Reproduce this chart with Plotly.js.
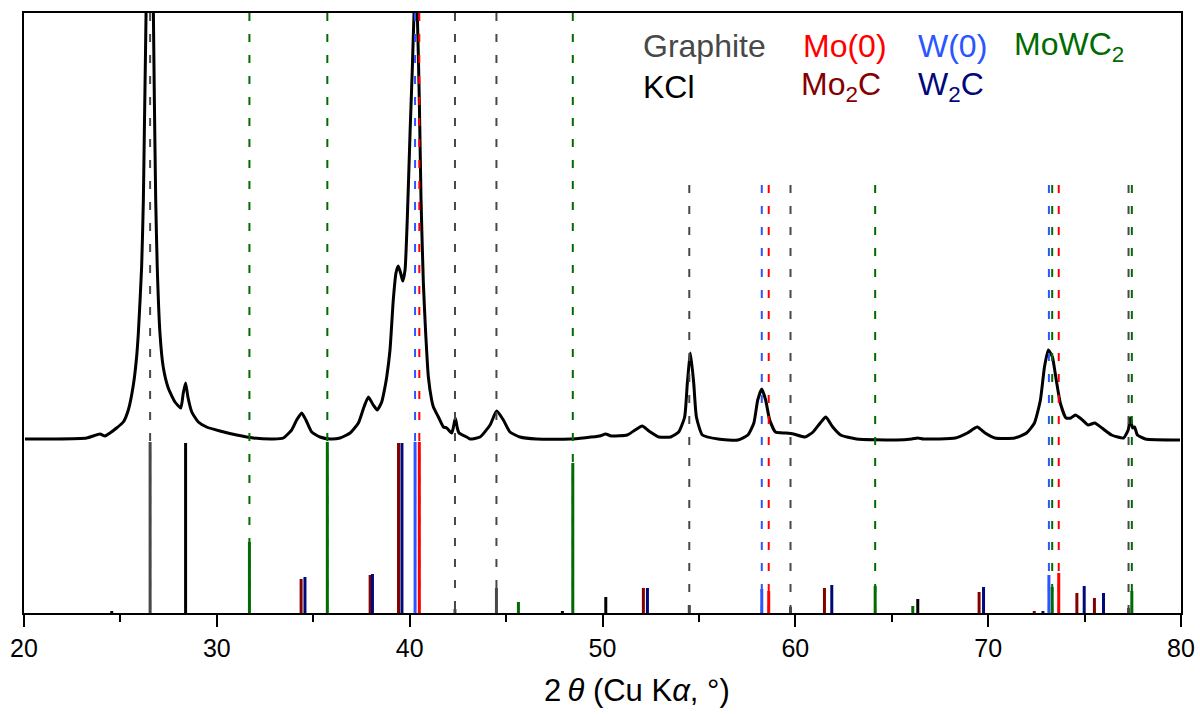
<!DOCTYPE html>
<html>
<head>
<meta charset="utf-8">
<script src="https://cdn.plot.ly/plotly-3.0.1.min.js"></script>
<style>html,body{margin:0;padding:0;background:#fff;}#chart{width:1200px;height:715px;}</style>
</head>
<body>
<div id="chart"></div>
<script>
// Measured XRD pattern (2θ in degrees, intensity in arbitrary units)
const twoTheta = [20.05,21.5,23.25,23.94,24.2,24.46,24.8,25.15,25.41,25.67,25.84,25.93,26.10,26.19,26.24,26.29,26.33,26.45,26.6,26.71,26.76,26.83,26.91,27.05,27.22,27.48,27.83,28.13,28.26,28.38,28.50,28.70,29.04,29.47,30.16,31.03,31.89,32.93,33.45,33.88,34.14,34.40,34.62,34.92,35.35,35.87,36.39,36.91,37.34,37.63,37.86,38.11,38.32,38.55,38.72,38.81,38.98,39.15,39.29,39.41,39.53,39.64,39.76,39.88,40.02,40.14,40.22,40.27,40.34,40.40,40.50,40.59,40.71,40.83,40.97,41.14,41.23,41.49,41.75,41.92,42.18,42.27,42.37,42.47,42.56,42.96,43.13,43.65,44.17,44.51,44.86,45.2,45.72,46.59,48.32,49.85,50.16,50.46,51.28,51.69,52.06,52.41,52.93,53.54,53.95,54.26,54.40,54.56,54.73,54.87,55.18,56.0,57.02,57.54,57.85,58.05,58.26,58.46,58.67,58.97,59.49,59.9,60.51,60.92,61.29,61.58,61.94,62.35,63.17,65.22,66.04,66.35,66.66,68.30,68.92,69.43,69.84,70.35,71.38,71.99,72.40,72.71,72.92,73.12,73.33,73.53,73.74,74.04,74.29,74.52,74.83,75.18,75.53,75.9,76.40,77.02,77.26,77.37,77.49,77.59,77.74,78.15,79.95];
const intensity = [174,174,175,179,177,180,185,191,203,228,256,280,346,413,480,546,600,800,800,600,513,413,346,280,246,225,211,205,220,230,216,201,191,186,182,178,175,174,175,183,193,200,193,181,176,174,175,180,190,206,216,208,203,211,226,236,263,313,340,347,340,332,343,396,480,546,596,612,612,596,513,413,330,280,236,213,206,196,186,185,180,186,195,185,180,176,174,176,188,202,193,181,176,174,174,177,179,177,178,183,187,182,176,176,181,196,230,260,230,196,178,174,173,178,190,213,224,213,193,181,180,179,176,181,190,196,186,178,174,173,174,175,174,175,180,186,180,175,175,180,190,213,246,263,256,233,210,195,195,198,194,188,190,185,178,175,183,195,185,186,178,174,173];

// Reference stick patterns (position, relative height)
const graphiteX = [26.54, 42.35, 44.50, 54.50, 59.75, 77.28];
const graphiteI = [171, 4, 25, 8, 6, 5];
const kclX = [24.55, 28.38, 47.92, 50.17, 66.35];
const kclI = [2, 170, 2, 16, 14];
const moX = [40.50, 58.62, 73.66];
const moI = [171, 22, 40];
const wX = [40.28, 58.26, 73.15];
const wI = [171, 24, 38];
const mo2cX = [34.37, 37.95, 39.42, 52.12, 61.51, 69.53, 72.39, 74.60, 75.51];
const mo2cI = [34, 38, 170, 25, 25, 21, 2, 20, 15];
const w2cX = [34.57, 38.07, 39.60, 52.33, 61.89, 69.76, 72.84, 74.98, 75.98];
const w2cI = [36, 39, 170, 25, 28, 26, 2, 27, 20];
const mowc2X = [31.69, 35.73, 45.64, 48.46, 64.14, 66.09, 73.32, 77.45];
const mowc2I = [71, 171, 11, 150, 27, 7, 26, 22];

// Dashed marker lines for identified reflections
const graphiteRef = [26.54, 42.35, 44.50, 54.50, 59.75, 77.28];
const moRef = [40.50, 58.62, 73.66];
const wRef = [40.28, 58.26, 73.15];
const mowc2Ref = [31.69, 35.73, 48.46, 64.14, 73.32, 77.45];

// Legend labels and axis title
const labelTexts = ['Graphite','KCl','Mo(0)','Mo<sub>2</sub>C','W(0)','W<sub>2</sub>C','MoWC<sub>2</sub>'];
const xTitle = '2\u2009<i>θ</i> (Cu K<i>α</i>, °)';

const C = {graphite:'#484848', kcl:'#000000', mo:'#ff0000', w:'#2a55ff', mo2c:'#850000', w2c:'#00087a', mowc2:'#006b00'};
const FONT = 'Liberation Sans, Arial, sans-serif';
const YMAX = 600;

function sticks(xs, hs, color) {
  const x = [], y = [];
  xs.forEach((v, i) => { x.push(v, v, null); y.push(0, hs[i], null); });
  return {type:'scatter', mode:'lines', x, y, line:{color, width:3}, hoverinfo:'skip', showlegend:false};
}
function dashes(xs, color) {
  const x = [], y = [];
  xs.forEach(v => { x.push(v, v, null); y.push(v < 50 ? YMAX : 428, 0, null); });
  return {type:'scatter', mode:'lines', x, y, line:{color, width:2, dash:'8px,13px'}, hoverinfo:'skip', showlegend:false};
}

const traces = [
  {type:'scatter', mode:'lines', x:twoTheta, y:intensity, line:{color:'#000', width:3, shape:'spline', smoothing:0.5}, hoverinfo:'skip', showlegend:false},
  dashes(graphiteRef, C.graphite),
  dashes(mowc2Ref, C.mowc2),
  dashes(wRef, C.w),
  dashes(moRef, C.mo),
  sticks(graphiteX, graphiteI, C.graphite),
  sticks(kclX, kclI, C.kcl),
  sticks(mowc2X, mowc2I, C.mowc2),
  sticks(mo2cX, mo2cI, C.mo2c),
  sticks(w2cX, w2cI, C.w2c),
  sticks(wX, wI, C.w),
  sticks(moX, moI, C.mo)
];

const labelPos = [[641,46,C.graphite],[641,87,C.kcl],[801,46,C.mo],[799,87,C.mo2c],[916,46,C.w],[916,87,C.w2c],[1012,46,C.mowc2]];
const annotations = labelTexts.map((t, i) => ({
  text: t, xref:'paper', yref:'paper',
  x: (labelPos[i][0] - 24) / 1157, y: (613 - labelPos[i][1]) / 600,
  xanchor:'left', yanchor:'middle', showarrow:false,
  font:{family:FONT, size:32, color:labelPos[i][2]}
}));
annotations.push({
  text: xTitle, xref:'paper', yref:'paper',
  x: (637 - 24) / 1157, y: (613 - 690) / 600,
  xanchor:'center', yanchor:'middle', showarrow:false,
  font:{family:FONT, size:31, color:'#000'}
});

const layout = {
  width:1200, height:715,
  margin:{l:24, r:19, t:13, b:102},
  paper_bgcolor:'#fff', plot_bgcolor:'#fff',
  showlegend:false,
  xaxis:{
    range:[20,80], dtick:10, tick0:20, ticks:'outside', ticklen:12, tickwidth:2, tickcolor:'#000',
    minor:{dtick:5, ticks:'outside', ticklen:7, tickwidth:2, tickcolor:'#000'},
    showline:true, linewidth:2, linecolor:'#000', mirror:true, showgrid:false, zeroline:false,
    tickfont:{family:FONT, size:25, color:'#000'}
  },
  yaxis:{
    range:[0, YMAX], showticklabels:false, ticks:'', showline:true, linewidth:2, linecolor:'#000',
    mirror:true, showgrid:false, zeroline:false
  },
  annotations
};

Plotly.newPlot('chart', traces, layout, {displayModeBar:false, staticPlot:true});
</script>
</body>
</html>
